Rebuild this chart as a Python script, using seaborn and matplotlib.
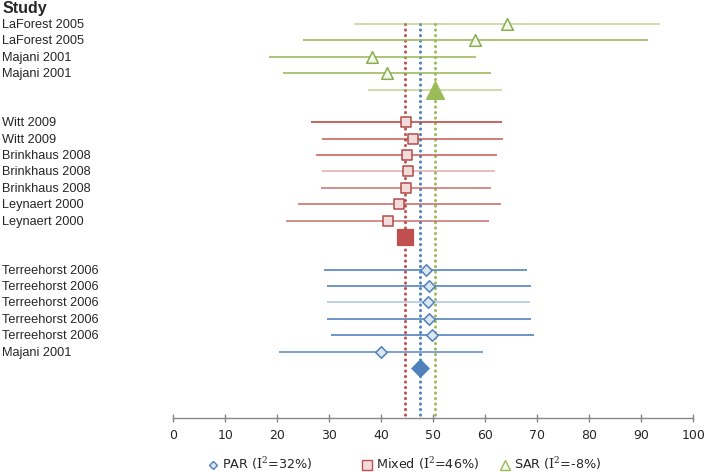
import pandas as pd
import seaborn as sns
import matplotlib.pyplot as plt
from matplotlib.lines import Line2D

# ---- data ----
sar_studies = ["LaForest 2005", "LaForest 2005", "Majani 2001", "Majani 2001"]
sar_est = [64.2, 58.1, 38.2, 41.0]
sar_lo = [34.7, 25.0, 18.4, 21.1]
sar_hi = [93.6, 91.2, 58.3, 61.1]
sar_pooled = [50.3, 37.4, 63.3]   # est, lo, hi

mixed_studies = ["Witt 2009", "Witt 2009", "Brinkhaus 2008", "Brinkhaus 2008",
                 "Brinkhaus 2008", "Leynaert 2000", "Leynaert 2000"]
mixed_est = [44.8, 46.0, 44.9, 45.2, 44.8, 43.4, 41.2]
mixed_lo = [26.4, 28.6, 27.5, 28.6, 28.4, 23.9, 21.7]
mixed_hi = [63.3, 63.4, 62.3, 61.8, 61.1, 63.0, 60.8]
mixed_pooled = [44.5]

par_studies = ["Terreehorst 2006", "Terreehorst 2006", "Terreehorst 2006",
               "Terreehorst 2006", "Terreehorst 2006", "Majani 2001"]
par_est = [48.5, 49.1, 49.0, 49.1, 49.8, 40.0]
par_lo = [28.9, 29.6, 29.5, 29.6, 30.3, 20.4]
par_hi = [68.0, 68.7, 68.6, 68.7, 69.4, 59.5]
par_pooled = [47.5]

legend_labels = [r"PAR ($\mathrm{I}^{2}$=32%)", r"Mixed ($\mathrm{I}^{2}$=46%)",
                 r"SAR ($\mathrm{I}^{2}$=-8%)"]
x_ticks = list(range(0, 101, 10))

# line shade per study (lighter = smaller weight in original)
sar_alpha = [0.55, 0.9, 0.9, 0.9]
mixed_alpha = [0.95, 0.8, 0.8, 0.4, 0.7, 0.75, 0.7]
par_alpha = [0.9, 0.9, 0.4, 0.9, 0.9, 0.8]

green, red, blue = "#9BBB59", "#C0504D", "#4F81BD"

# build one table, rows go top -> bottom
rows = []
r = 0
for name, e, lo, hi in zip(sar_studies, sar_est, sar_lo, sar_hi):
    rows.append(dict(study=name, est=e, lo=lo, hi=hi, row=r, grp="SAR")); r += 1
sar_row = r; r += 2
for name, e, lo, hi in zip(mixed_studies, mixed_est, mixed_lo, mixed_hi):
    rows.append(dict(study=name, est=e, lo=lo, hi=hi, row=r, grp="Mixed")); r += 1
mixed_row = r; r += 2
for name, e, lo, hi in zip(par_studies, par_est, par_lo, par_hi):
    rows.append(dict(study=name, est=e, lo=lo, hi=hi, row=r, grp="PAR")); r += 1
par_row = r
df = pd.DataFrame(rows)

sns.set_theme(style="white")
plt.rcParams["mathtext.fontset"] = "dejavuserif"
fig = plt.figure(figsize=(7.1, 4.72), dpi=100)
ax = fig.add_axes([173.3 / 710, 1 - 417.5 / 472, 520 / 710, 409.5 / 472])

bottom = (417.5 - 24) / 16.38
ax.set_xlim(0, 100)
ax.set_ylim(bottom, (8 - 24) / 16.38)

# pooled dotted reference lines (round dots)
for v, c in [(mixed_pooled[0], red), (par_pooled[0], blue), (sar_pooled[0], green)]:
    ax.plot([v, v], [0, bottom], color=c, lw=2.2, ls=(0, (0.05, 1.75)),
            dash_capstyle="round", zorder=1)

styles = {
    "SAR": dict(c=green, alphas=sar_alpha, marker="^", fill="#F3F7EC", edge="#8AAE4C", s=70),
    "Mixed": dict(c=red, alphas=mixed_alpha, marker="s", fill="#F2DCDB", edge="#B24B48", s=50),
    "PAR": dict(c=blue, alphas=par_alpha, marker="D", fill="#DCE6F2", edge="#4F81BD", s=34),
}
for g, st in styles.items():
    sub = df[df.grp == g]
    for (_, row), a in zip(sub.iterrows(), st["alphas"]):
        ax.hlines(row.row, row.lo, row.hi, color=st["c"], alpha=a, lw=1.3, zorder=2)
    sns.scatterplot(data=sub, x="est", y="row", marker=st["marker"], s=st["s"],
                    color=st["fill"], edgecolor=st["edge"], linewidth=1.1,
                    ax=ax, zorder=3, legend=False)

# pooled estimates
ax.hlines(sar_row, sar_pooled[1], sar_pooled[2], color=green, alpha=0.55, lw=1.3, zorder=2)
pooled = pd.DataFrame(dict(est=[sar_pooled[0], mixed_pooled[0], par_pooled[0]],
                           row=[sar_row, mixed_row, par_row]))
sns.scatterplot(data=pooled.iloc[[0]], x="est", y="row", marker="^", s=160,
                color=green, edgecolor=green, ax=ax, zorder=4, legend=False)
sns.scatterplot(data=pooled.iloc[[1]], x="est", y="row", marker="s", s=120,
                color=red, edgecolor=red, ax=ax, zorder=4, legend=False)
sns.scatterplot(data=pooled.iloc[[2]], x="est", y="row", marker="D", s=80,
                color=blue, edgecolor=blue, ax=ax, zorder=4, legend=False)

# study labels on the left
for _, row in df.iterrows():
    fig.text(0.003, 1 - (25 + 16.38 * row.row) / 472, row.study, fontsize=9.2,
             family="Liberation Sans", va="center", ha="left")
fig.text(0.003, 1 - 9 / 472, "Study", fontsize=11.5, fontweight="bold",
         family="Liberation Sans", va="center", ha="left")

# axes cosmetics
for sp in ["top", "right", "left"]:
    ax.spines[sp].set_visible(False)
ax.spines["bottom"].set_color("#868686")
ax.spines["bottom"].set_linewidth(1.0)
ax.set_xticks(x_ticks)
ax.set_yticks([])
ax.tick_params(axis="x", direction="inout", length=6, width=1, color="#868686",
               labelsize=9, pad=5, bottom=True)
ax.set_xlabel("")
ax.set_ylabel("")

# legend: three separate entries, placed like the original
handles = [
    Line2D([], [], ls="", marker="D", ms=4.5, mfc="#DCE6F2", mec=blue, mew=1),
    Line2D([], [], ls="", marker="s", ms=6.5, mfc="#F2DCDB", mec=red, mew=1),
    Line2D([], [], ls="", marker="^", ms=6.5, mfc="#F3F7EC", mec=green, mew=1),
]
for h, lab, xpx in zip(handles, legend_labels, [208, 362, 500]):
    fig.legend([h], [lab], loc="center left", bbox_to_anchor=(xpx / 710, 1 - 464 / 472),
               frameon=False, fontsize=9.2, handlelength=0.8, handletextpad=0.3,
               borderpad=0, borderaxespad=0)

fig.savefig("out.png", dpi=100)
